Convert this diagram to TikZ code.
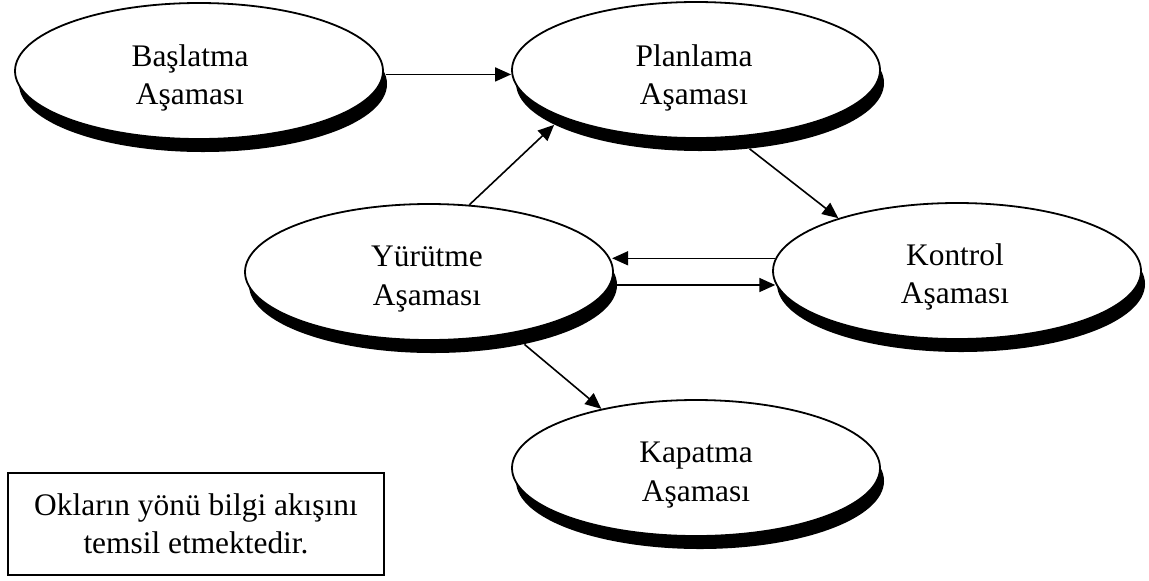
\documentclass[tikz,border=0pt]{standalone}
\usepackage{fontspec}
\setmainfont{Liberation Serif}
\usetikzlibrary{arrows.meta,shapes.geometric}
\begin{document}
\begin{tikzpicture}[x=0.5pt,y=-0.5pt,
  phase/.style={ellipse, draw=black, line width=0.9pt, fill=white,
    minimum width=184pt, minimum height=68pt, inner sep=0pt},
  phaseshadow/.style={ellipse, fill=black,
    minimum width=184pt, minimum height=68pt, inner sep=0pt},
  lbl/.style={align=center, inner sep=0pt,
    font=\fontsize{15.7}{19.3}\selectfont},
  flow/.style={line width=0.8pt, -{Triangle[length=8pt,width=7pt]}},
  note/.style={draw=black, line width=1.2pt, minimum width=188pt,
    minimum height=51pt, inner sep=0pt, align=center,
    font=\fontsize{15.7}{19.3}\selectfont}]

\useasboundingbox (0,0) rectangle (1149,580);

% drop shadows of the phase ellipses
\node[phaseshadow] (bas-s) at (203,84)  {};
\node[phaseshadow] (pla-s) at (700,83)  {};
\node[phaseshadow] (yur-s) at (433,285) {};
\node[phaseshadow] (kon-s) at (961,284) {};
\node[phaseshadow] (kap-s) at (700,481) {};

% phase ellipses
\node[phase] (bas) at (199,71)  {};
\node[phase] (pla) at (696,70)  {};
\node[phase] (yur) at (429,272) {};
\node[phase] (kon) at (957,271) {};
\node[phase] (kap) at (696,468) {};

% phase names
\node[lbl] (bas-t) at (190,78)  {Başlatma\\Aşaması};
\node[lbl] (pla-t) at (694,78)  {Planlama\\Aşaması};
\node[lbl] (yur-t) at (427,279) {Yürütme\\Aşaması};
\node[lbl] (kon-t) at (955,277) {Kontrol\\Aşaması};
\node[lbl] (kap-t) at (696,475) {Kapatma\\Aşaması};

% information flow
\draw[flow] (bas-s.3.5) -- (bas-s.3.5 -| pla.west);
\draw[flow] (yur.59) -- (pla-s.196);
\draw[flow] (pla-s.307) -- (kon.156);
\draw[flow] (kon.176.5) -- (kon.176.5 -| yur.3.8);
\draw[flow] (yur-s.east) -- (yur-s.east -| kon.184);
\draw[flow] (yur-s.327.5) -- (kap.148.5);

% legend
\node[note] (legend) at (196,524) {Okların yönü bilgi akışını\\temsil etmektedir.};
\end{tikzpicture}
\end{document}
